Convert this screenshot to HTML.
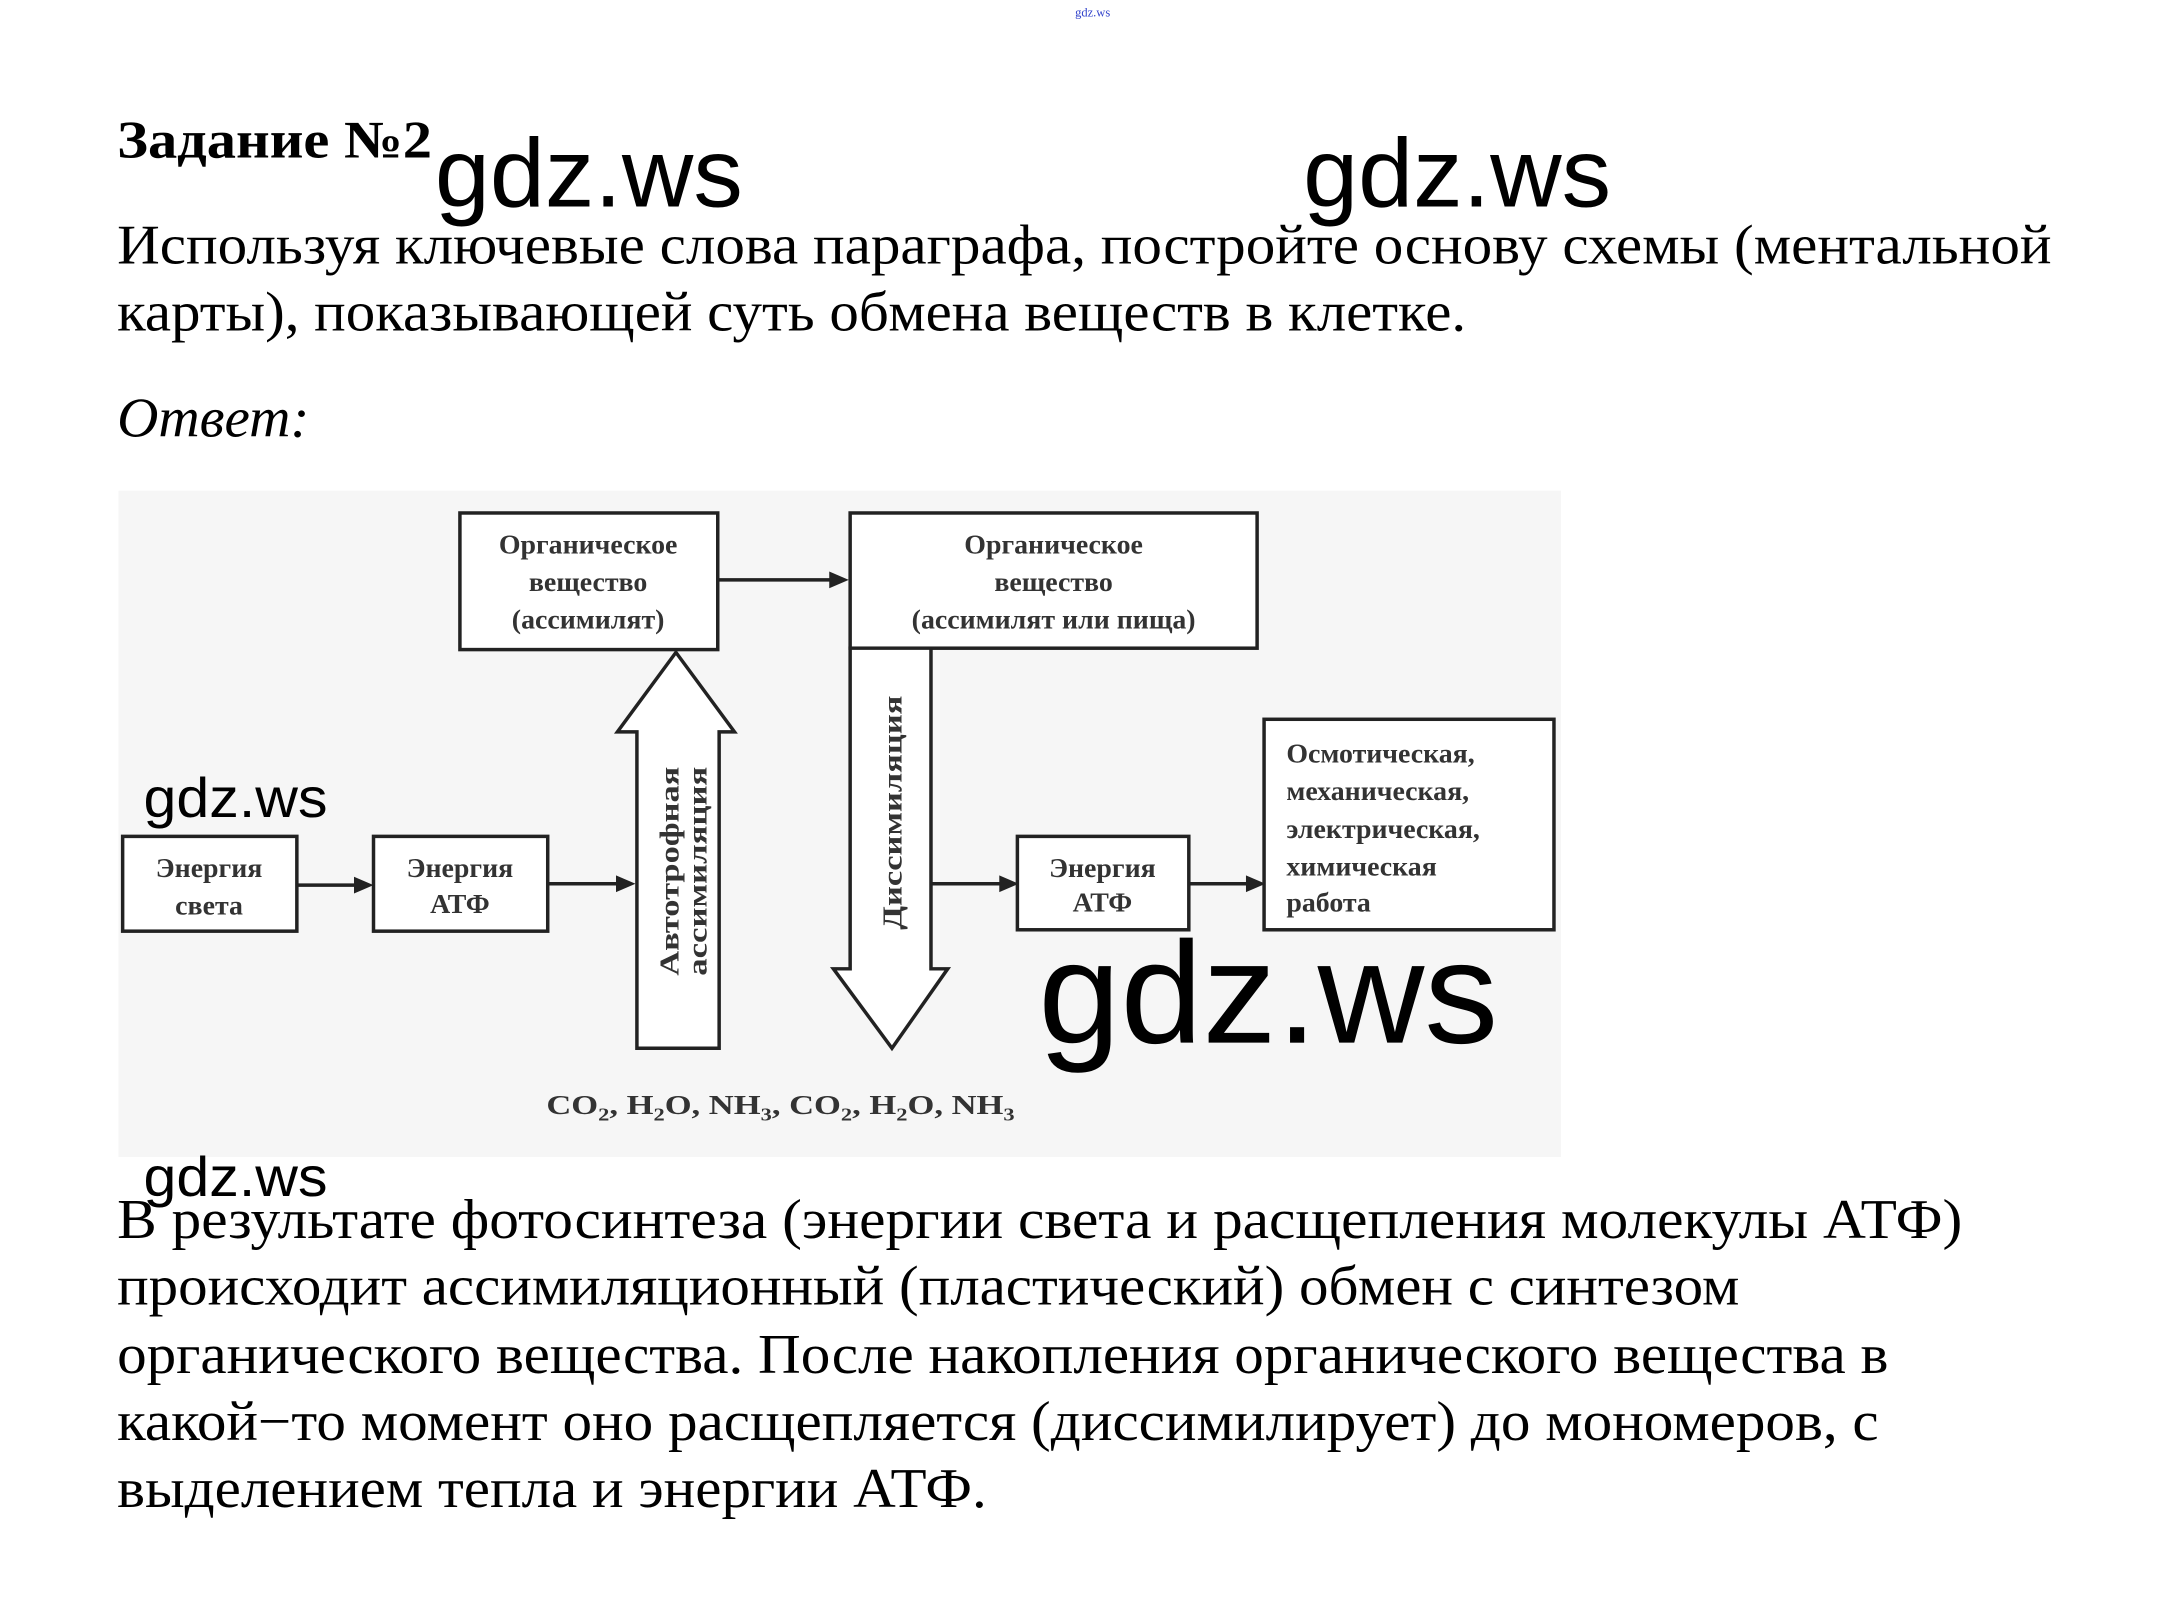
<!DOCTYPE html>
<html><head><meta charset="utf-8"><style>
html,body{margin:0;padding:0;background:#fff;}
svg{display:block;}
.serif{font-family:"Liberation Serif","Noto Serif CJK SC",serif;}
.sans{font-family:"Liberation Sans","DejaVu Sans",sans-serif;}
.b{font-weight:bold;}
</style></head><body>
<svg width="2163" height="1617" viewBox="0 0 1552 1160" preserveAspectRatio="none" xmlns="http://www.w3.org/2000/svg">
<rect width="1552" height="1160" fill="#fff"/>
<text x="784" y="12" class="serif" font-size="9" fill="#3344cc" text-anchor="middle">gdz.ws</text>
<text x="84" y="113" class="serif b" font-size="38" textLength="226" lengthAdjust="spacingAndGlyphs">Задание №2</text>
<text x="312" y="148" class="sans" font-size="70" textLength="221" lengthAdjust="spacingAndGlyphs">gdz.ws</text>
<text x="935" y="148" class="sans" font-size="70" textLength="221" lengthAdjust="spacingAndGlyphs">gdz.ws</text>
<g class="serif" font-size="40">
<text x="84" y="189" textLength="1388" lengthAdjust="spacingAndGlyphs">Используя ключевые слова параграфа, постройте основу схемы (ментальной</text>
<text x="84" y="237" textLength="968" lengthAdjust="spacingAndGlyphs">карты), показывающей суть обмена веществ в клетке.</text>
<text x="84" y="313" font-style="italic" textLength="138" lengthAdjust="spacingAndGlyphs">Ответ:</text>
</g>
<!-- diagram -->
<rect x="85" y="352" width="1035" height="478" fill="#f6f6f6"/>
<g fill="#fff" stroke="#222" stroke-width="2.5">
<rect x="330" y="368" width="185" height="98"/>
<rect x="610" y="368" width="292" height="97"/>
<rect x="88" y="600" width="125" height="68"/>
<rect x="268" y="600" width="125" height="68"/>
<rect x="730" y="600" width="123" height="67"/>
<rect x="907" y="516" width="208" height="151"/>
<polygon points="457,752 516,752 516,525 527,525 485,468 443,525 457,525"/>
<polygon points="610,465 668,465 668,695 680,695 640,752 598,695 610,695"/>
</g>
<g stroke="#222" stroke-width="2.5">
<line x1="213" y1="635" x2="258" y2="635"/>
<line x1="393" y1="634" x2="445" y2="634"/>
<line x1="668" y1="634" x2="720" y2="634"/>
<line x1="853" y1="634" x2="897" y2="634"/>
<line x1="515" y1="416" x2="598" y2="416"/>
</g>
<g fill="#222">
<polygon points="268,635 254,629 254,641"/>
<polygon points="456,634 442,628 442,640"/>
<polygon points="731,634 717,628 717,640"/>
<polygon points="908,634 894,628 894,640"/>
<polygon points="609,416 595,410 595,422"/>
</g>
<g class="serif b" font-size="20" fill="#333" text-anchor="middle">
<text x="422" y="397">Органическое</text>
<text x="422" y="424">вещество</text>
<text x="422" y="451">(ассимилят)</text>
<text x="756" y="397">Органическое</text>
<text x="756" y="424">вещество</text>
<text x="756" y="451">(ассимилят или пища)</text>
<text x="150" y="629">Энергия</text>
<text x="150" y="656">света</text>
<text x="330" y="629">Энергия</text>
<text x="330" y="655">АТФ</text>
<text x="791" y="629">Энергия</text>
<text x="791" y="654">АТФ</text>
</g>
<g class="serif b" font-size="20" fill="#333">
<text x="923" y="547">Осмотическая,</text>
<text x="923" y="574">механическая,</text>
<text x="923" y="601">электрическая,</text>
<text x="923" y="628">химическая</text>
<text x="923" y="654">работа</text>
<text transform="translate(487,625) rotate(-90)" text-anchor="middle" textLength="150" lengthAdjust="spacingAndGlyphs">Автотрофная</text>
<text transform="translate(507,625) rotate(-90)" text-anchor="middle" textLength="150" lengthAdjust="spacingAndGlyphs">ассимиляция</text>
<text transform="translate(647,583) rotate(-90)" text-anchor="middle" textLength="168" lengthAdjust="spacingAndGlyphs">Диссимиляция</text>
<text x="392" y="799" textLength="336" lengthAdjust="spacingAndGlyphs">CO<tspan font-size="13" dy="5">2</tspan><tspan dy="-5">, H</tspan><tspan font-size="13" dy="5">2</tspan><tspan dy="-5">O, NH</tspan><tspan font-size="13" dy="5">3</tspan><tspan dy="-5">, CO</tspan><tspan font-size="13" dy="5">2</tspan><tspan dy="-5">, H</tspan><tspan font-size="13" dy="5">2</tspan><tspan dy="-5">O, NH</tspan><tspan font-size="13" dy="5">3</tspan></text>
</g>
<text x="103" y="586" class="sans" font-size="40" textLength="132" lengthAdjust="spacingAndGlyphs">gdz.ws</text>
<text x="103" y="858" class="sans" font-size="40" textLength="132" lengthAdjust="spacingAndGlyphs">gdz.ws</text>
<text x="745" y="748" class="sans" font-size="104" textLength="330" lengthAdjust="spacingAndGlyphs">gdz.ws</text>
<g class="serif" font-size="40">
<text x="84" y="888" textLength="1324" lengthAdjust="spacingAndGlyphs">В результате фотосинтеза (энергии света и расщепления молекулы АТФ)</text>
<text x="84" y="936" textLength="1164" lengthAdjust="spacingAndGlyphs">происходит ассимиляционный (пластический) обмен с синтезом</text>
<text x="84" y="985" textLength="1271" lengthAdjust="spacingAndGlyphs">органического вещества. После накопления органического вещества в</text>
<text x="84" y="1033" textLength="1264" lengthAdjust="spacingAndGlyphs">какой−то момент оно расщепляется (диссимилирует) до мономеров, с</text>
<text x="84" y="1081" textLength="624" lengthAdjust="spacingAndGlyphs">выделением тепла и энергии АТФ.</text>
</g>
</svg>
</body></html>
